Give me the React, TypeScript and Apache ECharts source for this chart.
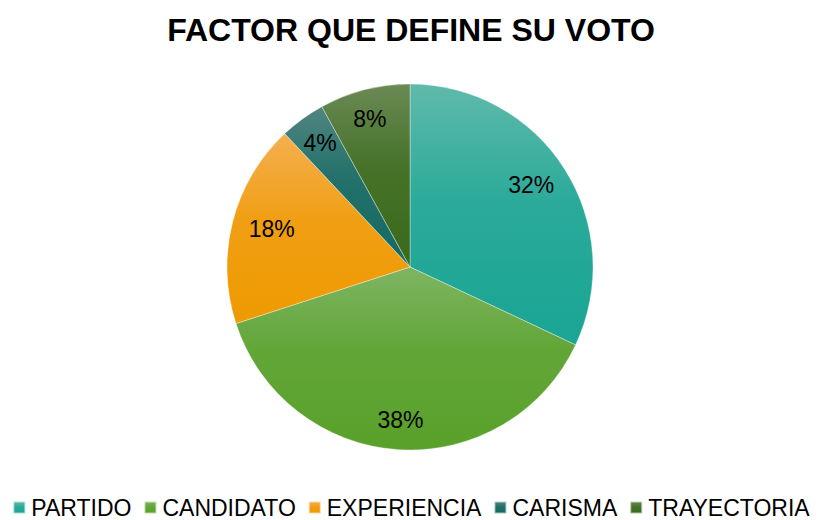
import React, { useEffect, useRef } from "react";
import * as echarts from "echarts";

const categories = ["PARTIDO", "CANDIDATO", "EXPERIENCIA", "CARISMA", "TRAYECTORIA"];
const values = [32, 38, 18, 4, 8];
const topColors = ["#5FBAAB", "#7EB562", "#F5AF50", "#518581", "#6A8A55"];
const bottomColors = ["#19A594", "#59A12A", "#EE9A00", "#126A62", "#3A6A1A"];
const labelPads = [
  [10, 16, 0, 0],
  [14, 0, 0, 0],
  [6, 0, 0, 20],
  [0, 0, 4, 0],
  [0, 4, 0, 0],
];

const grad = (i: number) =>
  new echarts.graphic.LinearGradient(0, 0, 0, 1, [
    { offset: 0, color: topColors[i] },
    { offset: 0.45, color: echarts.color.lerp(0.75, [topColors[i], bottomColors[i]]) },
    { offset: 1, color: bottomColors[i] },
  ]);

export default function App() {
  const ref = useRef<HTMLDivElement>(null);
  useEffect(() => {
    document.body.style.margin = "0";
    const chart = echarts.init(ref.current!, null, { renderer: "svg" });
    const font = "'Liberation Sans', Arial, sans-serif";
    const data = categories.map((name, i) => ({
      name,
      value: values[i],
      itemStyle: { color: grad(i) },
    }));
    chart.setOption({
      animation: false,
      title: {
        text: "FACTOR QUE DEFINE SU VOTO",
        left: "center",
        top: 9,
        textStyle: { fontFamily: font, fontSize: 32, fontWeight: "bold", color: "#000" },
      },
      legend: {
        bottom: -4,
        left: "center",
        itemWidth: 12,
        itemHeight: 12,
        itemGap: 12,
        icon: "rect",
        data: categories,
        textStyle: { fontFamily: font, fontSize: 23, color: "#000", padding: [0, 0, 0, 1] },
      },
      series: [
        {
          type: "pie",
          center: [410, 267],
          radius: [0, 183],
          startAngle: 90,
          clockwise: true,
          data,
          label: { show: false },
          labelLine: { show: false },
          itemStyle: { borderColor: "rgba(255,255,255,0.6)", borderWidth: 0.6 },
          emphasis: { disabled: true },
        },
        {
          type: "pie",
          center: [410, 267],
          radius: [117, 183],
          startAngle: 90,
          clockwise: true,
          silent: true,
          data: categories.map((name, i) => ({
            name,
            value: values[i],
            label: { padding: labelPads[i] },
          })),
          itemStyle: { color: "rgba(0,0,0,0)" },
          label: {
            show: true,
            position: "inside",
            formatter: "{c}%",
            fontFamily: font,
            fontSize: 23,
            color: "#000",
          },
          labelLine: { show: false },
          emphasis: { disabled: true },
        },
      ],
    });
    return () => chart.dispose();
  }, []);
  return <div ref={ref} style={{ width: 822, height: 520 }} />;
}
